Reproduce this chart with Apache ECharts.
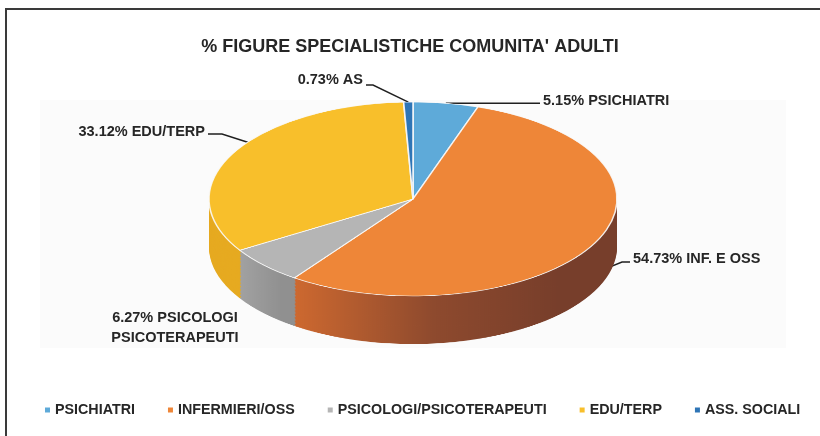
<!DOCTYPE html>
<html>
<head>
<meta charset="utf-8">
<script src="https://cdn.jsdelivr.net/npm/echarts@6/dist/echarts.min.js"></script>
<style>
  html, body { margin: 0; padding: 0; background: #fff; }
  #wrap { position: relative; width: 820px; height: 436px; overflow: hidden; }
  #main { position: absolute; left: 0; top: 0; width: 820px; height: 436px; }
  #pie { position: absolute; left: 0; top: 0; width: 820px; transform-origin: 0 0; }
</style>
</head>
<body>
<div id="wrap">
  <div id="main"></div>
  <div id="pie"></div>
</div>
<script>
// dati
const categories = ['PSICHIATRI', 'INFERMIERI/OSS', 'PSICOLOGI/PSICOTERAPEUTI', 'EDU/TERP', 'ASS. SOCIALI']
const shortNames = ['PSICHIATRI', 'INF. E OSS', 'PSICOLOGI\nPSICOTERAPEUTI', 'EDU/TERP', 'AS']
const values = [5.15, 54.73, 6.27, 33.12, 0.73]

const topColors = ['#5eaad9', '#ee8638', '#b5b5b5', '#f8bf2b', '#2e75b6']

// geometria della torta "3D"
const CX = 413, CY = 199, RX = 204, RY = 97, DEPTH = 48
const K = RY / RX
const FONT = '"Liberation Sans", Arial, sans-serif'

const G = echarts.graphic
const sideColors = [
  '#4a8fbb',
  new G.LinearGradient(280, 0, 560, 0, [
    { offset: 0, color: '#d46c30' },
    { offset: 0.55, color: '#8e4a2e' },
    { offset: 1, color: '#773e2b' }
  ], true),
  new G.LinearGradient(222, 0, 282, 0, [
    { offset: 0, color: '#a9a9a9' },
    { offset: 1, color: '#909090' }
  ], true),
  '#e6aa20',
  '#255f94'
]

// --- torta (contenitore schiacciato in verticale) ---
const pieEl = document.getElementById('pie')
pieEl.style.height = (436 / K) + 'px'
pieEl.style.transform = 'scaleY(' + K + ')'
const pieChart = echarts.init(pieEl)

const makePie = (offset, colors, border) => ({
  type: 'pie',
  silent: true,
  radius: RX,
  center: [CX, CY / K + offset],
  startAngle: 90,
  clockwise: true,
  label: { show: false },
  labelLine: { show: false },
  emphasis: { disabled: true },
  itemStyle: border
    ? { borderColor: 'rgba(250,250,250,0.9)', borderWidth: 1.6 }
    : { borderWidth: 0 },
  data: values.map((v, i) => ({ name: categories[i], value: v, itemStyle: { color: colors[i] } }))
})

const pieSeries = []
const steps = 34
for (let s = steps; s >= 1; s--) {
  pieSeries.push(makePie((DEPTH / K) * s / steps, sideColors, false))
}
pieSeries.push(makePie(0, topColors, true))

pieChart.setOption({
  backgroundColor: 'transparent',
  animation: false,
  series: pieSeries
})

// --- titolo, legenda, etichette ---
const total = values.reduce((a, b) => a + b, 0)
const anchor = (i, drop) => {
  const before = values.slice(0, i).reduce((a, b) => a + b, 0)
  const ang = 2 * Math.PI * (before + values[i] / 2) / total
  return [CX + RX * Math.sin(ang), CY - RY * Math.cos(ang) + (drop || 0)]
}

// posizione dei testi
const labelSpots = [
  { x: 543, y: 101, align: 'left', line: a => [a, [500, a[1]], [540, a[1]]] },
  { x: 633, y: 259, align: 'left', drop: 30, line: a => [a, [622, 262], [630, 262]] },
  { x: 175, y: 328, align: 'center', line: null },
  { x: 205, y: 132, align: 'right', line: a => [[250, 143], [222, 134], [208, 134]] },
  { x: 363, y: 80, align: 'right', line: a => [a, [373, 85], [366, 85]] }
]

const chart = echarts.init(document.getElementById('main'))
chart.setOption({
  backgroundColor: '#fff',
  animation: false,
  graphic: [
    { type: 'rect', shape: { x: 6, y: 9, width: 840, height: 460 }, style: { fill: 'none', stroke: '#3a3a3a', lineWidth: 2 }, z: 1 },
    { type: 'rect', shape: { x: 40, y: 100, width: 746, height: 248 }, style: { fill: '#fbfbfb' }, z: 0 }
  ],
  title: {
    text: "% FIGURE SPECIALISTICHE COMUNITA' ADULTI",
    left: 'center',
    top: 33,
    textStyle: { fontFamily: FONT, fontSize: 18, fontWeight: 'bold', color: '#262626' }
  },
  legend: {
    data: categories,
    left: 40,
    top: 398,
    icon: 'rect',
    itemWidth: 5,
    itemHeight: 5,
    itemGap: 33,
    textStyle: { fontFamily: FONT, fontSize: 14.3, fontWeight: 'bold', color: '#262626' }
  },
  series: [{
    type: 'pie',
    radius: 80,
    center: [CX, CY],
    startAngle: 90,
    clockwise: true,
    silent: true,
    emphasis: { disabled: true },
    label: {
      show: true,
      position: 'outside',
      fontFamily: FONT,
      fontSize: 14.5,
      fontWeight: 'bold',
      color: '#262626',
      lineHeight: 20,
      formatter: p => values[p.dataIndex].toFixed(2) + '% ' + shortNames[p.dataIndex]
    },
    labelLine: { show: true, lineStyle: { color: '#1f1f1f', width: 1.4 } },
    labelLayout: p => {
      const spot = labelSpots[p.dataIndex]
      const res = { x: spot.x, y: spot.y, align: spot.align, verticalAlign: 'middle' }
      if (spot.line) res.labelLinePoints = spot.line(anchor(p.dataIndex, spot.drop))
      return res
    },
    data: values.map((v, i) => ({
      name: categories[i],
      value: v,
      itemStyle: { color: topColors[i] },
      labelLine: { show: !!labelSpots[i].line }
    }))
  }]
})
</script>
</body>
</html>
